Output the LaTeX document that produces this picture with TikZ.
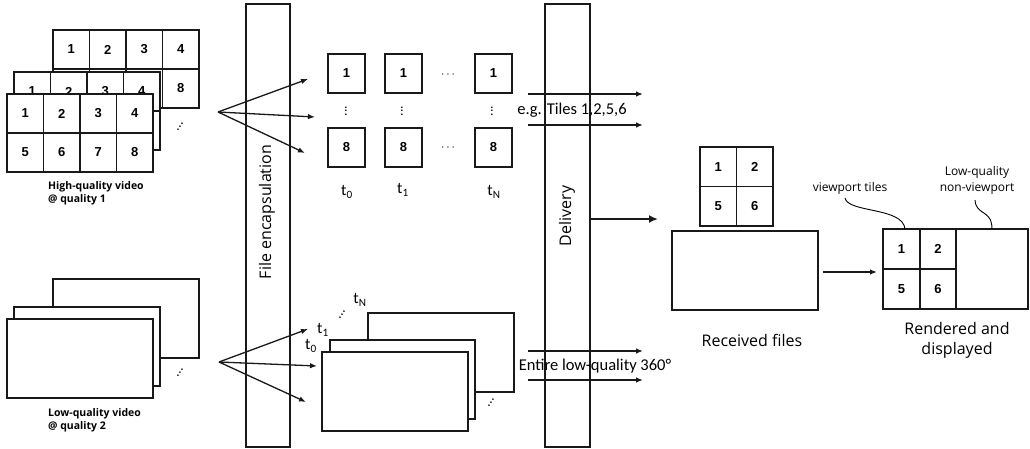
\documentclass[tikz,border=0pt]{standalone}
\usepackage{fontspec}
\setmainfont{Open Sans}
\newfontfamily\calfont{Carlito}
\newfontfamily\arialfont{Liberation Sans}
\usetikzlibrary{arrows.meta}
\tikzset{
 ln/.style={line width=1.6pt, draw=black!90},
 frame/.style={ln, fill=white},
 num/.style={font=\arialfont\bfseries\fontsize{13}{13}\selectfont, inner sep=0pt},
 tilebox/.style={ln, minimum width=37pt, minimum height=39pt, inner sep=0pt, font=\arialfont\bfseries\fontsize{13}{13}\selectfont},
 arr/.style={line width=1.3pt, draw=black!90, -{Latex[length=7pt,width=5.5pt]}},
 big/.style={font=\fontsize{16}{20}\selectfont, align=center, inner sep=0pt},
 calib/.style={font=\calfont\fontsize{16.5}{18}\selectfont, inner sep=0pt},
 capt/.style={font=\bfseries\fontsize{10.5}{13}\selectfont, align=left, anchor=north west, inner sep=0pt},
 smalllab/.style={font=\fontsize{12}{16}\selectfont, align=center, inner sep=0pt},
 tlab/.style={font=\calfont\fontsize{16}{18}\selectfont, inner sep=0pt},
 dotsl/.style={font=\fontsize{13}{13}\selectfont, inner sep=0pt},
 hqframe/.pic={
  \draw[frame] (0,0) rectangle (146,78);
  \draw[ln] (36.5,0) -- (36.5,78) (73,0) -- (73,78) (109.5,0) -- (109.5,78) (0,39) -- (146,39);
  \foreach \n [count=\c from 0] in {1,2,3,4}{\node[num] (-a\n) at (36.5*\c+18.25,19.5) {\n};}
  \foreach \n [count=\c from 0] in {5,6,7,8}{\node[num] (-a\n) at (36.5*\c+18.25,58.5) {\n};}
 }
}
\begin{document}
\begin{tikzpicture}[x=1pt,y=-1pt]
\useasboundingbox (0,0) rectangle (1030,449);
% high-quality frames
\pic (hqC) at (53,30) {hqframe};
\pic (hqB) at (14,72) {hqframe};
\pic (hqA) at (7,94) {hqframe};
\node[dotsl, rotate=55] (hqdots) at (180,127) {...};
\node[capt] (hqcap) at (48,181) {High-quality video\\@ quality 1};
% low-quality frames
\draw[frame] (53,279) rectangle (199,358);
\draw[frame] (14,307) rectangle (160,386);
\draw[frame] (7,319) rectangle (153,398);
\node[dotsl, rotate=55] (lqdots) at (180,373) {...};
\node[capt] (lqcap) at (48,408) {Low-quality video\\@ quality 2};
% bars
\draw[ln] (246,4) rectangle (290,447);
\node[big, rotate=90] (enc) at (267,212) {File encapsulation};
\draw[ln] (545,4) rectangle (590,447);
\node[big, rotate=90] (deliv) at (567,216) {Delivery};
% fans
\coordinate (hqfan) at (218,112);
\coordinate (hqe1) at (308,79);
\coordinate (hqe2) at (315,117);
\coordinate (hqe3) at (305,153);
\draw[arr] (hqfan) -- (hqe1);
\draw[arr] (hqfan) -- (hqe2);
\draw[arr] (hqfan) -- (hqe3);
\coordinate (lqfan) at (219,362);
\coordinate (lqe1) at (308,329);
\coordinate (lqe2) at (317,366);
\coordinate (lqe3) at (306,402);
\draw[arr] (lqfan) -- (lqe1);
\draw[arr] (lqfan) -- (lqe2);
\draw[arr] (lqfan) -- (lqe3);
% tiles per time
\node[tilebox] (t0a) at (346.5,73.5) {1};
\node[tilebox] (t0b) at (346.5,147.5) {8};
\node[tilebox] (t1a) at (403.5,73.5) {1};
\node[tilebox] (t1b) at (403.5,147.5) {8};
\node[tilebox] (tNa) at (493.5,73.5) {1};
\node[tilebox] (tNb) at (493.5,147.5) {8};
\node[dotsl, rotate=90] (v0) at (346,111) {...};
\node[dotsl, rotate=90] (v1) at (402,111) {...};
\node[dotsl, rotate=90] (vN) at (492,111) {...};
\node[dotsl] (h1) at (448,75) {$\cdots$};
\node[dotsl] (h2) at (448,148) {$\cdots$};
\node[tlab] (lt0) at (347,192) {t\textsubscript{0}};
\node[tlab] (lt1) at (403,190) {t\textsubscript{1}};
\node[tlab] (ltN) at (494,192) {t\textsubscript{N}};
% low-quality per time
\draw[frame] (368,313) rectangle (514,392);
\draw[frame] (330,340) rectangle (475,419);
\draw[frame] (322,352) rectangle (468,431);
\node[tlab] (qt0) at (311,346) {t\textsubscript{0}};
\node[tlab] (qt1) at (323,330) {t\textsubscript{1}};
\node[tlab] (qtN) at (360,300) {t\textsubscript{N}};
\node[dotsl, rotate=55] (qdots) at (342,315) {...};
\node[dotsl, rotate=55] (qdots2) at (491,403) {...};
% delivery arrows
\coordinate (d1s) at (528,94);
\coordinate (d1e) at (643,94);
\coordinate (d2s) at (528,125);
\coordinate (d2e) at (643,125);
\draw[arr] (d1s) -- (d1e);
\draw[arr] (d2s) -- (d2e);
\node[calib] (eg) at (572,110) {e.g. Tiles 1,2,5,6};
\coordinate (d3s) at (528,351);
\coordinate (d3e) at (643,351);
\coordinate (d4s) at (528,380);
\coordinate (d4e) at (643,380);
\draw[arr] (d3s) -- (d3e);
\draw[arr] (d4s) -- (d4e);
\node[calib] (entire) at (595,366) {Entire low-quality 360°};
\coordinate (ts) at (590,219);
\coordinate (te) at (658,219);
\draw[arr, line width=2.8pt, -{Latex[length=9pt,width=8pt]}] (ts) -- (te);
% received files
\node[tilebox, minimum width=36.5pt, minimum height=39.5pt] (r1) at (718.25,166.75) {1};
\node[tilebox, minimum width=36.5pt, minimum height=39.5pt] (r2) at (754.75,166.75) {2};
\node[tilebox, minimum width=36.5pt, minimum height=39.5pt] (r5) at (718.25,206.25) {5};
\node[tilebox, minimum width=36.5pt, minimum height=39.5pt] (r6) at (754.75,206.25) {6};
\draw[frame] (672,231) rectangle (818,310);
\node[big] (recvlab) at (752,340) {Received files};
\coordinate (rs) at (823,272);
\coordinate (re) at (877,272);
\draw[arr] (rs) -- (re);
% rendered
\draw[frame] (883,229) rectangle (1028,309);
\draw[ln] (920,229) -- (920,309) (956,229) -- (956,309) (883,269) -- (956,269);
\node[num] (n1) at (901.5,249) {1};
\node[num] (n2) at (938,249) {2};
\node[num] (n5) at (901.5,289) {5};
\node[num] (n6) at (938,289) {6};
\node[big] (rendlab) at (957,340) {Rendered and\\displayed};
\node[smalllab] (vplab) at (850,188) {viewport tiles};
\node[smalllab] (lqlab) at (977,180) {Low-quality\\non-viewport};
\coordinate (c1s) at (845,198);
\coordinate (c1e) at (905,229);
\coordinate (c2s) at (975,200);
\coordinate (c2e) at (992,229);
\draw[line width=0.9pt] (c1s) .. controls (848,213) and (903,207) .. (c1e);
\draw[line width=0.9pt] (c2s) .. controls (976,216) and (992,209) .. (c2e);
\end{tikzpicture}
\end{document}
